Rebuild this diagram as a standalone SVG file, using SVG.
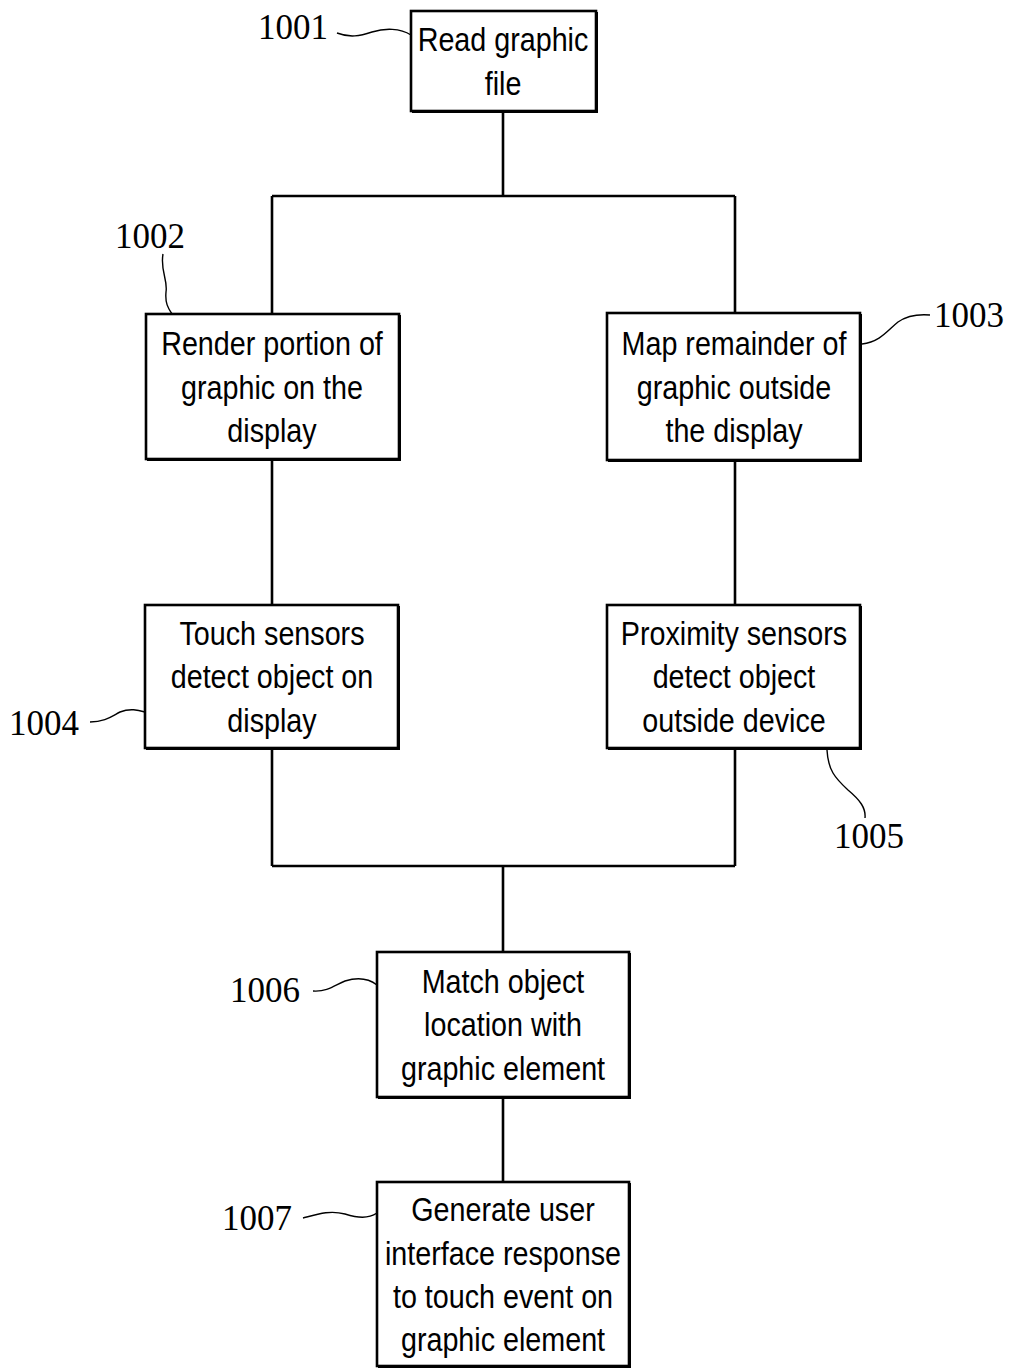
<svg xmlns="http://www.w3.org/2000/svg" width="1011" height="1368" viewBox="0 0 1011 1368">
<style>
.box{fill:#fff;stroke:#000;stroke-width:2.6}
.sh{fill:none;stroke:#000;stroke-width:2}
.t{font-family:"Liberation Sans",Arial,sans-serif;font-size:33px;text-anchor:middle;fill:#000}
.lb{font-family:"Liberation Serif","Times New Roman",serif;font-size:35px;fill:#000}
.ld{fill:none;stroke:#000;stroke-width:1.4}
.c{fill:none;stroke:#000;stroke-width:2.6}
</style>
<rect width="1011" height="1368" fill="#fff"/>
<g id="connectors">
<path class="c" d="M503,111 V196 M272,196 H735 M272,196 V314 M735,196 V313"/>
<path class="c" d="M272,459 V605 M735,461 V605"/>
<path class="c" d="M272,748 V866 M735,748 V866 M272,866 H735 M503,866 V952"/>
<path class="c" d="M503,1097 V1182"/>
</g>
<g id="n1001">
<rect class="box" x="411" y="11" width="185" height="100"/>
<path class="sh" d="M597,12 V112 H412"/>
<text class="t" transform="translate(503 51) scale(0.87 1)">Read graphic</text>
<text class="t" transform="translate(503 95) scale(0.87 1)">file</text>
<text class="lb" x="258" y="39">1001</text>
<path class="ld" d="M337,33 C350,38 360,36 372,32 C385,28 400,28 411,35"/>
</g>
<g id="n1002">
<rect class="box" x="146" y="314" width="253" height="145"/>
<path class="sh" d="M400,315 V460 H147"/>
<text class="t" transform="translate(272 355) scale(0.87 1)">Render portion of</text>
<text class="t" transform="translate(272 399) scale(0.87 1)">graphic on the</text>
<text class="t" transform="translate(272 442) scale(0.87 1)">display</text>
<text class="lb" x="115" y="248">1002</text>
<path class="ld" d="M163,254 C160,270 168,280 166,292 C165,303 168,308 172,314"/>
</g>
<g id="n1003">
<rect class="box" x="607" y="313" width="253" height="147"/>
<path class="sh" d="M861,314 V461 H608"/>
<text class="t" transform="translate(734 355) scale(0.87 1)">Map remainder of</text>
<text class="t" transform="translate(734 399) scale(0.87 1)">graphic outside</text>
<text class="t" transform="translate(734 442) scale(0.87 1)">the display</text>
<text class="lb" x="934" y="327">1003</text>
<path class="ld" d="M862,344 C880,342 888,330 898,322 C908,315 918,314 930,315"/>
</g>
<g id="n1004">
<rect class="box" x="145" y="605" width="253" height="143"/>
<path class="sh" d="M399,606 V749 H146"/>
<text class="t" transform="translate(272 645) scale(0.87 1)">Touch sensors</text>
<text class="t" transform="translate(272 688) scale(0.87 1)">detect object on</text>
<text class="t" transform="translate(272 732) scale(0.87 1)">display</text>
<text class="lb" x="9" y="735">1004</text>
<path class="ld" d="M90,722 C105,722 112,716 120,712 C130,708 138,710 145,712"/>
</g>
<g id="n1005">
<rect class="box" x="607" y="605" width="253" height="143"/>
<path class="sh" d="M861,606 V749 H608"/>
<text class="t" transform="translate(734 645) scale(0.87 1)">Proximity sensors</text>
<text class="t" transform="translate(734 688) scale(0.87 1)">detect object</text>
<text class="t" transform="translate(734 732) scale(0.87 1)">outside device</text>
<text class="lb" x="834" y="848">1005</text>
<path class="ld" d="M827,750 C828,770 835,778 848,790 C860,800 866,808 865,818"/>
</g>
<g id="n1006">
<rect class="box" x="377" y="952" width="252" height="145"/>
<path class="sh" d="M630,953 V1098 H378"/>
<text class="t" transform="translate(503 993) scale(0.87 1)">Match object</text>
<text class="t" transform="translate(503 1036) scale(0.87 1)">location with</text>
<text class="t" transform="translate(503 1080) scale(0.87 1)">graphic element</text>
<text class="lb" x="230" y="1002">1006</text>
<path class="ld" d="M313,991 C328,992 335,985 345,981 C358,977 368,978 377,985"/>
</g>
<g id="n1007">
<rect class="box" x="377" y="1182" width="252" height="184"/>
<path class="sh" d="M630,1183 V1367 H378"/>
<text class="t" transform="translate(503 1221) scale(0.87 1)">Generate user</text>
<text class="t" transform="translate(503 1265) scale(0.87 1)">interface response</text>
<text class="t" transform="translate(503 1308) scale(0.87 1)">to touch event on</text>
<text class="t" transform="translate(503 1351) scale(0.87 1)">graphic element</text>
<text class="lb" x="222" y="1230">1007</text>
<path class="ld" d="M303,1218 C318,1214 330,1210 345,1214 C358,1218 368,1219 377,1213"/>
</g>
</svg>
